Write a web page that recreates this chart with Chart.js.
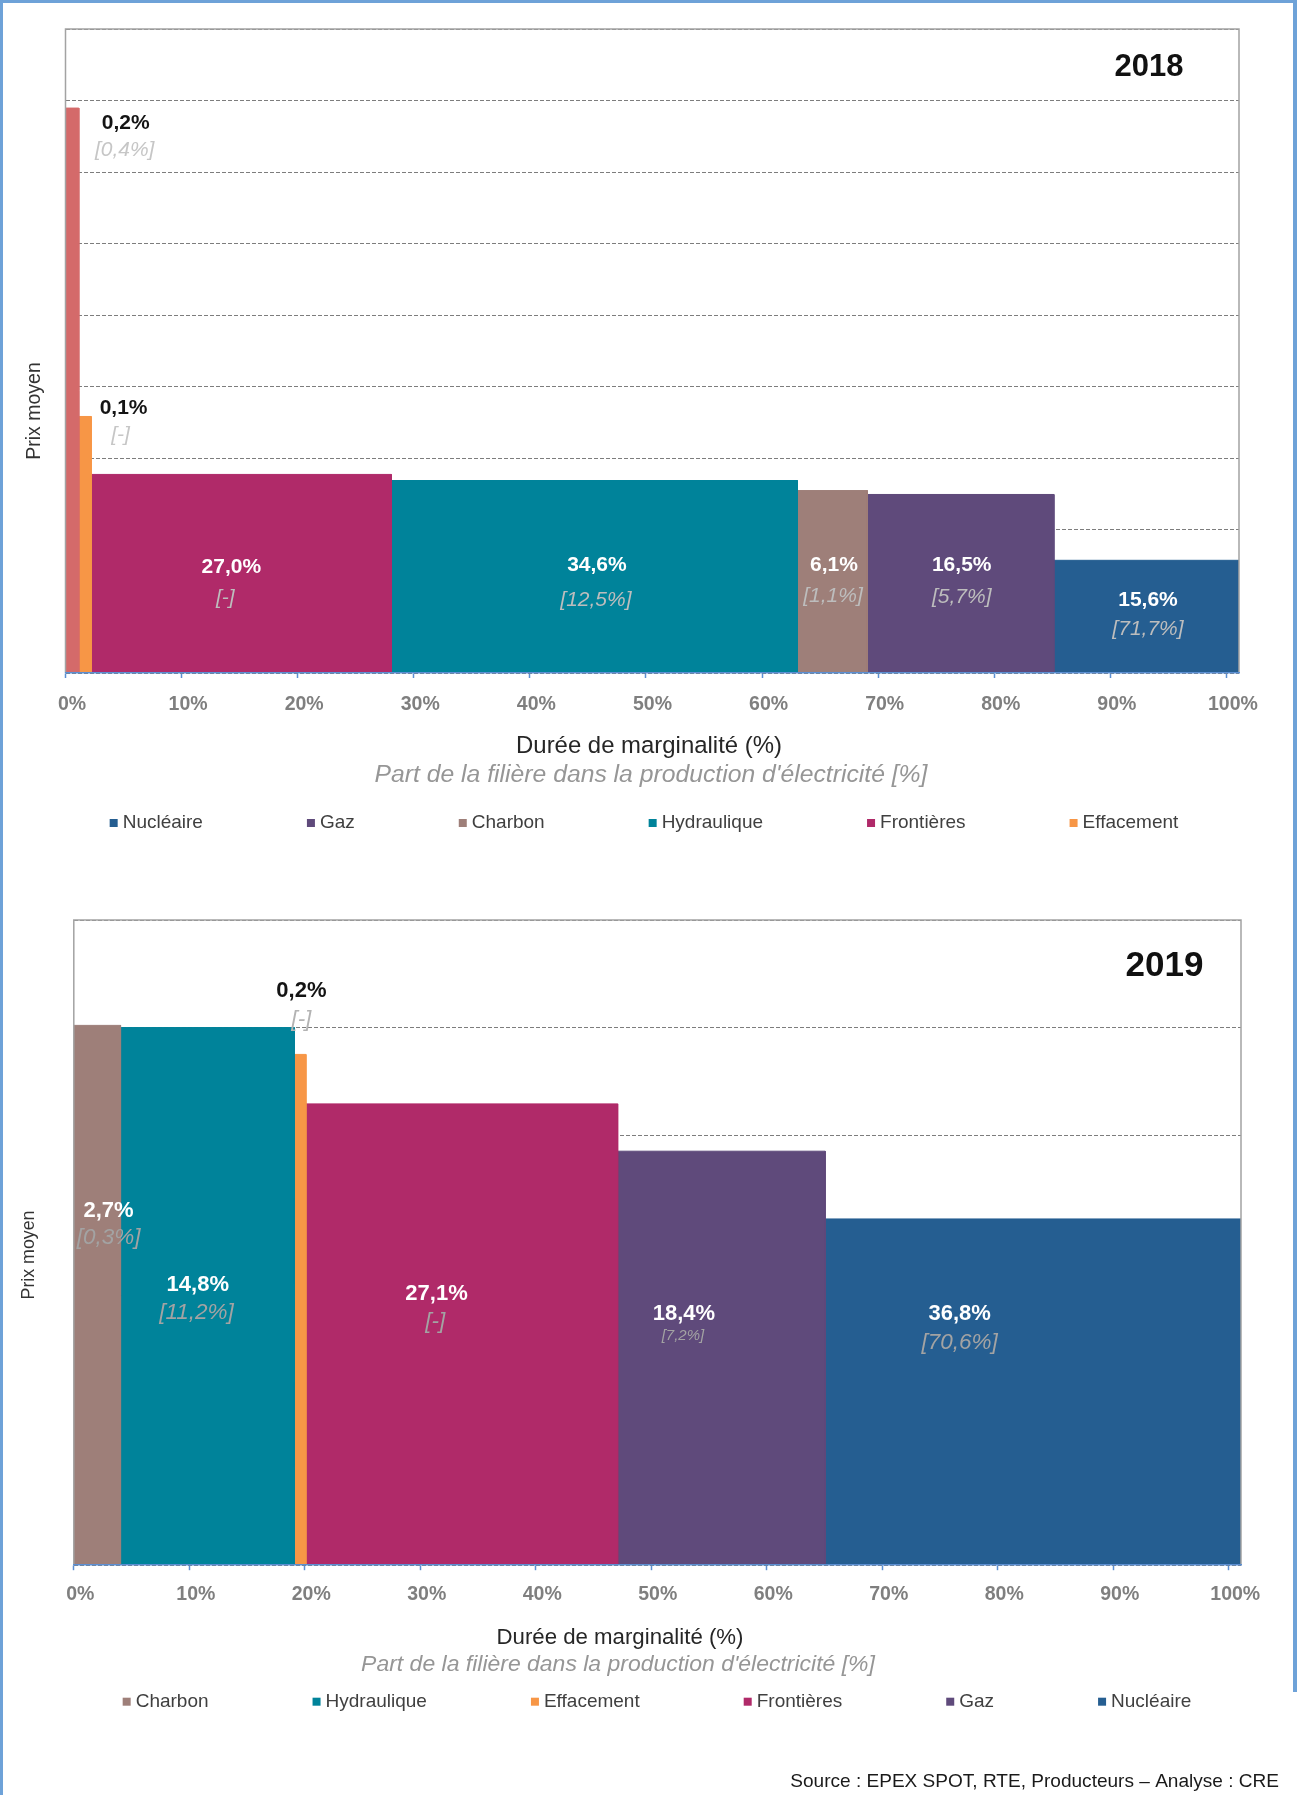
<!DOCTYPE html>
<html>
<head>
<meta charset="utf-8">
<script src="https://cdn.jsdelivr.net/npm/chart.js@4.4.1/dist/chart.umd.min.js"></script>
<style>
html,body{margin:0;padding:0;background:#fff;}
#page{position:relative;width:1297px;height:1795px;overflow:hidden;background:#fff;}
#p1{position:absolute;left:0;top:0;width:1297px;height:880px;}
#p2{position:absolute;left:0;top:880px;width:1297px;height:915px;}
.bl{position:absolute;background:#6ea2d8;}
</style>
</head>
<body>
<div id="page">
  <div id="p1"><canvas id="c1" width="1297" height="880"></canvas></div>
  <div id="p2"><canvas id="c2" width="1297" height="915"></canvas></div>
  <div class="bl" style="left:0;top:0;width:1297px;height:3px"></div>
  <div class="bl" style="left:0;top:0;width:3px;height:1795px"></div>
  <div class="bl" style="left:1293px;top:0;width:4px;height:1692px"></div>
</div>
<script>
// ---------------- DATA ----------------
// 2018 : bars from left to right
const categories2018 = ['Fioul', 'Effacement', 'Frontières', 'Hydraulique', 'Charbon', 'Gaz', 'Nucléaire'];
const width2018 = [1.15, 1.07, 25.85, 34.98, 6.03, 16.06, 15.94];      // drawn width on the duration axis (%)
const price2018 = [157.9, 71.7, 55.5, 53.8, 51.0, 49.9, 31.5];          // mean price (relative height)
const duration2018 = ['0,2%', '0,1%', '27,0%', '34,6%', '6,1%', '16,5%', '15,6%'];
const share2018 = ['[0,4%]', '[-]', '[-]', '[12,5%]', '[1,1%]', '[5,7%]', '[71,7%]'];
const legend2018 = ['Nucléaire', 'Gaz', 'Charbon', 'Hydraulique', 'Frontières', 'Effacement'];

// 2019
const categories2019 = ['Charbon', 'Hydraulique', 'Effacement', 'Frontières', 'Gaz', 'Nucléaire'];
const width2019 = [4.05, 15.05, 1.0, 26.99, 17.97, 36.0];
const price2019 = [50.2, 50.0, 47.5, 42.9, 38.5, 32.2];
const duration2019 = ['2,7%', '14,8%', '0,2%', '27,1%', '18,4%', '36,8%'];
const share2019 = ['[0,3%]', '[11,2%]', '[-]', '[-]', '[7,2%]', '[70,6%]'];
const legend2019 = ['Charbon', 'Hydraulique', 'Effacement', 'Frontières', 'Gaz', 'Nucléaire'];

const xTickStep = 10;
const xTitle = 'Durée de marginalité (%)';
const xSubtitle = "Part de la filière dans la production d'électricité [%]";
const yTitle = 'Prix moyen';
const sourceText = 'Source : EPEX SPOT, RTE, Producteurs – Analyse : CRE';

// ---------------- STYLE ----------------
const palette = {
  'Nucléaire': '#255e91',
  'Gaz': '#5f4a7b',
  'Charbon': '#9e7f79',
  'Hydraulique': '#00839a',
  'Frontières': '#b02a69',
  'Effacement': '#f79646',
  'Fioul': '#d46a6a'
};
const FAMILY = "'Liberation Sans', Arial, sans-serif";
Chart.defaults.font.family = FAMILY;

// label placement (pixel offsets from bar anchor): annotation layout only
const labelLayout2018 = [
  {anchor: 'top', dx: 53.5, dy: 15, gap: 27, bdx: -1, dark: true},
  {anchor: 'top', dx: 38.5, dy: -8, gap: 27, bdx: -3, dark: true},
  {anchor: 'mid', dx: -10, dy: -7, gap: 31, bdx: -6},
  {anchor: 'mid', dx: 2.5, dy: -12, gap: 35, bdx: -1},
  {anchor: 'mid', dx: 1.5, dy: -17, gap: 31, bdx: -1},
  {anchor: 'mid', dx: 1, dy: -19, gap: 32, bdx: 0},
  {anchor: 'mid', dx: 1.5, dy: -16.5, gap: 29, bdx: 0}
];
const labelLayout2019 = [
  {anchor: 'mid', dx: 11.4, dy: -84.5, gap: 27, bdx: 0},
  {anchor: 'mid', dx: -9.7, dy: -11.8, gap: 28, bdx: -1.3},
  {anchor: 'top', dx: 1.2, dy: -63, gap: 28, bdx: 0, dark: true},
  {anchor: 'mid', dx: -25.3, dy: -40.6, gap: 28, bdx: -1.3},
  {anchor: 'mid', dx: -37.5, dy: -44.2, gap: 21.5, bdx: -1, bsize: 15},
  {anchor: 'mid', dx: -73.4, dy: -78.4, gap: 29, bdx: 0}
];

const panel2018 = {
  categories: categories2018, widths: width2018, prices: price2018,
  duration: duration2018, share: share2018, legend: legend2018, labels: labelLayout2018,
  yMax: 180, yStep: 20,
  padding: {left: 65.5, right: 58, top: 29, bottom: 167}, xAxisH: 40, tickPad: 15,
  year: '2018', yearSize: 31, yearX: 1149, yearY: 67,
  prixX: 35, prixY: 411, prixSize: 19.5,
  titleX: 649, titleY: 746.7, titleW: 266,
  subX: 651, subY: 775, subW: 553,
  legendCx: 644, legendY: 823,
  valueSize: 21, shareSize: 21, shareColor: '#bdbdbd', shareColorOut: '#c6c6c6'
};
const panel2019 = {
  categories: categories2019, widths: width2019, prices: price2019,
  duration: duration2019, share: share2019, legend: legend2019, labels: labelLayout2019,
  yMax: 60, yStep: 10,
  padding: {left: 73.8, right: 56, top: 40, bottom: 189.8}, xAxisH: 40, tickPad: 13,
  year: '2019', yearSize: 35, yearX: 1164.5, yearY: 86,
  prixX: 29, prixY: 375, prixSize: 17.8,
  titleX: 620, titleY: 758, titleW: 247,
  subX: 618, subY: 785, subW: 514,
  legendCx: 657, legendY: 821.7,
  source: true, sourceRight: 1279, sourceY: 902, sourceW: 489,
  valueSize: 22, shareSize: 22.5, shareColor: '#a3a3a3', shareColorOut: '#b3b3b3'
};

// ---------------- BUILD ----------------
function rectDatasets(cats, widths, heights) {
  let x0 = 0;
  return cats.map((c, i) => {
    const x1 = x0 + widths[i];
    const ds = {
      label: c,
      data: [{x: x0, y: 0}, {x: x0, y: heights[i]}, {x: x1, y: heights[i]}, {x: x1, y: 0}],
      fill: 'origin',
      backgroundColor: palette[c],
      borderColor: palette[c],
      borderWidth: 1,
      pointRadius: 0,
      tension: 0,
      xStart: x0, xEnd: x1, value: heights[i]
    };
    x0 = x1;
    return ds;
  });
}

function fitSize(ctx, text, target, style) {
  ctx.font = style + ' 100px ' + FAMILY;
  return target / ctx.measureText(text).width * 100;
}
function drawText(ctx, s, x, y, font, color, align) {
  ctx.font = font;
  ctx.fillStyle = color;
  ctx.textAlign = align || 'center';
  ctx.textBaseline = 'middle';
  ctx.fillText(s, x, y);
}

function annotPlugin(cfg) {
  return {
    id: 'annot',
    afterDatasetsDraw(chart) {
      const ctx = chart.ctx;
      const a = chart.chartArea;
      const xs = chart.scales.x, ys = chart.scales.y;
      ctx.save();
      // frame
      ctx.strokeStyle = '#a3a3a3';
      ctx.lineWidth = 1.5;
      ctx.setLineDash([]);
      ctx.beginPath();
      ctx.moveTo(a.left, a.bottom);
      ctx.lineTo(a.left, a.top);
      ctx.lineTo(a.right, a.top);
      ctx.lineTo(a.right, a.bottom);
      ctx.stroke();

      // bar labels
      chart.data.datasets.forEach((ds, i) => {
        const L = cfg.labels[i];
        const x0 = xs.getPixelForValue(ds.xStart), x1 = xs.getPixelForValue(ds.xEnd);
        const yt = ys.getPixelForValue(ds.value), yb = ys.getPixelForValue(0);
        const cx = (x0 + x1) / 2;
        const ay = L.anchor === 'top' ? yt : (yt + yb) / 2;
        const vx = cx + L.dx, vy = ay + L.dy;
        drawText(ctx, cfg.duration[i], vx, vy, 'bold ' + cfg.valueSize + 'px ' + FAMILY, L.dark ? '#141414' : '#ffffff');
        drawText(ctx, cfg.share[i], vx + (L.bdx || 0), vy + L.gap, 'italic ' + (L.bsize || cfg.shareSize) + 'px ' + FAMILY,
          L.dark ? cfg.shareColorOut : cfg.shareColor);
      });

      // year
      drawText(ctx, cfg.year, cfg.yearX, cfg.yearY, 'bold ' + cfg.yearSize + 'px ' + FAMILY, '#111111');

      // y title
      ctx.save();
      ctx.translate(cfg.prixX, cfg.prixY);
      ctx.rotate(-Math.PI / 2);
      drawText(ctx, yTitle, 0, 0, cfg.prixSize + 'px ' + FAMILY, '#333333');
      ctx.restore();

      // x title + subtitle
      const ts = fitSize(ctx, xTitle, cfg.titleW, 'normal');
      drawText(ctx, xTitle, cfg.titleX, cfg.titleY, ts + 'px ' + FAMILY, '#262626');
      const ss = fitSize(ctx, xSubtitle, cfg.subW, 'italic');
      drawText(ctx, xSubtitle, cfg.subX, cfg.subY, 'italic ' + ss + 'px ' + FAMILY, '#969696');

      // legend
      ctx.font = '19px ' + FAMILY;
      const box = 8, tgap = 5, igap = 104;
      const items = cfg.legend.map(n => ({n, w: box + tgap + ctx.measureText(n).width}));
      const total = items.reduce((s, it) => s + it.w, 0) + igap * (items.length - 1);
      let lx = cfg.legendCx - total / 2;
      items.forEach(it => {
        ctx.fillStyle = palette[it.n];
        ctx.fillRect(lx, cfg.legendY - 4, box, box);
        drawText(ctx, it.n, lx + box + tgap, cfg.legendY, '19px ' + FAMILY, '#404040', 'left');
        lx += it.w + igap;
      });

      // source
      if (cfg.source) {
        const fs = fitSize(ctx, sourceText, cfg.sourceW, 'normal');
        drawText(ctx, sourceText, cfg.sourceRight, cfg.sourceY, fs + 'px ' + FAMILY, '#1a1a1a', 'right');
      }
      ctx.restore();
    }
  };
}

function makeChart(id, cfg) {
  const datasets = rectDatasets(cfg.categories, cfg.widths, cfg.prices);
  const total = cfg.widths.reduce((s, v) => s + v, 0);
  return new Chart(document.getElementById(id), {
    type: 'line',
    data: {datasets},
    options: {
      responsive: false,
      animation: false,
      events: [],
      layout: {padding: cfg.padding},
      plugins: {legend: {display: false}, tooltip: {enabled: false}, title: {display: false}},
      scales: {
        x: {
          type: 'linear', min: 0, max: total,
          afterFit: (s) => { s.height = cfg.xAxisH; },
          ticks: {
            stepSize: xTickStep, includeBounds: false, autoSkip: false, maxRotation: 0,
            padding: cfg.tickPad, labelOffset: 6.5, color: '#7f7f7f',
            font: {size: 19.5, weight: 'bold'},
            callback: (v) => v + '%'
          },
          grid: {drawOnChartArea: false, drawTicks: true, tickLength: 5, tickColor: '#5b8fd3', tickWidth: 1.5},
          border: {display: true, color: '#5b8fd3', width: 1.5, z: 1}
        },
        y: {
          min: 0, max: cfg.yMax,
          afterFit: (s) => { s.width = 0; },
          ticks: {display: false, stepSize: cfg.yStep},
          grid: {color: '#7d7d7d', lineWidth: 1, drawTicks: false},
          border: {display: false, dash: [4, 2]}
        }
      }
    },
    plugins: [annotPlugin(cfg)]
  });
}

makeChart('c1', panel2018);
makeChart('c2', panel2019);
</script>
</body>
</html>
